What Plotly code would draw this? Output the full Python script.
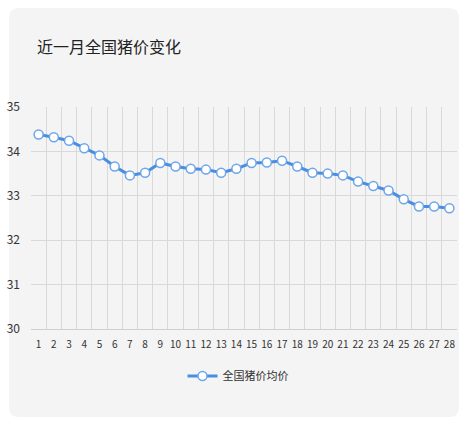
import plotly.graph_objects as go

# day of month and national average pig price
days = [str(d) for d in range(1, 29)]
prices = [34.38, 34.32, 34.24, 34.07, 33.91, 33.66, 33.46, 33.52, 33.74, 33.66,
          33.61, 33.59, 33.52, 33.61, 33.74, 33.75, 33.79, 33.66, 33.52, 33.50,
          33.46, 33.32, 33.22, 33.12, 32.92, 32.76, 32.76, 32.72]
y_ticks = [30, 31, 32, 33, 34, 35]

W, H = 463, 426
L, T = 31, 107
pw, ph = 426, 222
R, B = W - L - pw, H - T - ph

font = "Noto Sans CJK SC, Noto Sans, sans-serif"


def px_x(p):
    return (p - L) / pw


def px_y(p):
    return (H - B - p) / ph


# rounded grey card behind the chart
x0, x1, y0, y1 = px_x(9), px_x(459), px_y(8), px_y(417)
rx, ry = 10 / pw, 10 / ph
card = (f"M{x0+rx},{y0} L{x1-rx},{y0} Q{x1},{y0} {x1},{y0-ry} "
        f"L{x1},{y1+ry} Q{x1},{y1} {x1-rx},{y1} L{x0+rx},{y1} "
        f"Q{x0},{y1} {x0},{y1+ry} L{x0},{y0-ry} Q{x0},{y0} {x0+rx},{y0} Z")

fig = go.Figure(go.Scatter(
    x=days, y=prices, mode="lines+markers", name="全国猪价均价",
    line=dict(color="#4a8ee0", width=3),
    marker=dict(size=9, color="white", line=dict(color="#6ea6ea", width=1.5))))

fig.update_layout(
    width=W, height=H, margin=dict(l=L, r=R, t=T, b=B, autoexpand=False),
    paper_bgcolor="white", plot_bgcolor="rgba(0,0,0,0)",
    font=dict(family=font, color="#333", size=11),
    title=dict(text="近一月全国猪价变化", x=37 / W, xanchor="left",
               y=1 - 47 / H, yanchor="middle",
               font=dict(size=16, color="#222", family=font)),
    shapes=[dict(type="path", path=card, xref="paper", yref="paper",
                 fillcolor="#f4f4f4", line=dict(width=0), layer="below")],
    legend=dict(orientation="h", x=px_x(238), xanchor="center", y=px_y(376),
                yanchor="middle", font=dict(size=11, color="#333"),
                bgcolor="rgba(0,0,0,0)", itemwidth=30),
    showlegend=True)

fig.update_xaxes(type="category", range=[-0.5, len(days) - 0.5],
                 tickson="boundaries", showgrid=True,
                 gridcolor="#d9d9d9", gridwidth=1, showline=True,
                 linecolor="#cfcfcf", mirror=False, ticks="", tickangle=0,
                 automargin=False, ticklabelstandoff=6,
                 tickfont=dict(size=10, color="#333"))
fig.update_yaxes(range=[30, 35], tickvals=y_ticks, showgrid=True,
                 gridcolor="#d9d9d9", gridwidth=1, zeroline=False,
                 showline=False, ticks="", ticklabelstandoff=10,
                 automargin=False, tickfont=dict(size=12, color="#333"))

# drop the default 8px body margin so the figure fills the window
fig.write_html("out.html", config={"displayModeBar": False},
               post_script="document.body.style.margin='0';"
                           "document.body.style.overflow='hidden';")
